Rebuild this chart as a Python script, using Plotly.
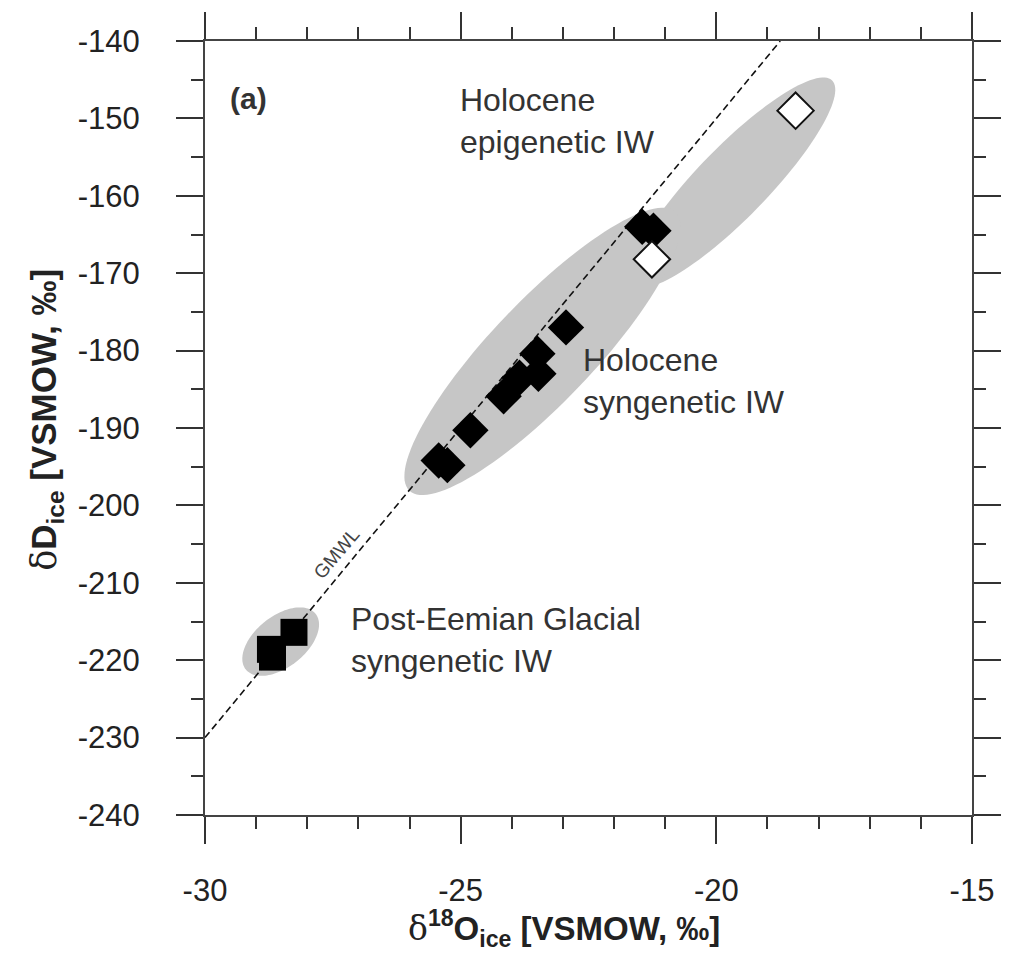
import numpy as np
import plotly.graph_objects as go

# ---- data ----
black_x = [-21.45, -21.23, -22.94, -23.50, -23.48, -23.85, -24.16, -24.81, -25.43, -25.26]
black_y = [-164.0, -164.5, -177.0, -180.4, -183.0, -183.5, -185.9, -190.3, -194.2, -194.8]
white_x = [-18.45, -21.26]
white_y = [-149.0, -168.2]
glacial_x = [-28.26, -28.72, -28.68]
glacial_y = [-216.4, -218.6, -219.6]

# GMWL: dD = 8 d18O + 10
gmwl_slope = 8
gmwl_intercept = 10
gmwl_x = [-30, -18.75]

x_range = [-30, -15]
y_range = [-240, -140]
x_ticks = [-30, -25, -20, -15]
x_ticktext = ["-30", "-25", "-20", "-15"]
y_ticks = [-240, -230, -220, -210, -200, -190, -180, -170, -160, -150, -140]
y_ticktext = ["-240", "-230", "-220", "-210", "-200", "-190", "-180", "-170", "-160", "-150", "-140"]

# ellipses: centre (data), semi-axes (fraction of axis), screen angle (deg)
ell_cx = [-19.68, -23.40, -28.52]
ell_cy = [-158.3, -180.1, -217.6]
ell_a = [0.185, 0.250, 0.058]
ell_b = [0.046, 0.066, 0.033]
ell_ang = [45.5, 46, 38]

labels = ["(a)", "Holocene<br>epigenetic IW", "Holocene<br>syngenetic IW",
          "Post-Eemian Glacial<br>syngenetic IW"]
label_x = [-29.55, -25.06, -22.65, -27.19]
label_y = [-147.4, -150.3, -183.9, -217.4]

x_title = "<span style='font-family:DejaVu Serif;font-weight:normal'>δ</span><b><sup>18</sup>O<sub>ice</sub> [VSMOW, ‰]</b>"
y_title = "<span style='font-family:DejaVu Serif;font-weight:normal'>δ</span><b>D<sub>ice</sub> [VSMOW, ‰]</b>"

FONT = "Liberation Sans, Arial, sans-serif"

fig = go.Figure()

xspan = x_range[1] - x_range[0]
yspan = y_range[1] - y_range[0]
t = np.linspace(0, 2 * np.pi, 121)
for cx, cy, a, b, ang in zip(ell_cx, ell_cy, ell_a, ell_b, ell_ang):
    th = np.deg2rad(ang)
    u = a * np.cos(t) * np.cos(th) - b * np.sin(t) * np.sin(th)
    v = a * np.cos(t) * np.sin(th) + b * np.sin(t) * np.cos(th)
    px = cx + u * xspan
    py = cy + v * yspan
    path = "M " + " L ".join(f"{xx:.4f},{yy:.4f}" for xx, yy in zip(px, py)) + " Z"
    fig.add_shape(type="path", path=path, fillcolor="#c6c6c6",
                  line=dict(width=0), layer="below")

gx = np.array(gmwl_x)
fig.add_trace(go.Scatter(x=gx, y=gmwl_slope * gx + gmwl_intercept, mode="lines",
                         line=dict(color="#111", width=1.6, dash="7px,4px"),
                         hoverinfo="skip", showlegend=False))

fig.add_trace(go.Scatter(x=black_x, y=black_y, mode="markers",
                         marker=dict(symbol="diamond", size=28, color="black",
                                     line=dict(width=0)), showlegend=False))
fig.add_trace(go.Scatter(x=white_x, y=white_y, mode="markers",
                         marker=dict(symbol="diamond", size=28, color="white",
                                     line=dict(width=2, color="#111")), showlegend=False))
fig.add_trace(go.Scatter(x=glacial_x, y=glacial_y, mode="markers",
                         marker=dict(symbol="square", size=27, color="black",
                                     line=dict(width=0)), showlegend=False))

for i, (txt, lx, ly) in enumerate(zip(labels, label_x, label_y)):
    fig.add_annotation(x=lx, y=ly, text=("<b>" + txt + "</b>") if i == 0 else txt,
                       showarrow=False, xanchor="left", yanchor="middle", align="left",
                       font=dict(family=FONT, size=(30 if i == 0 else 32), color="#333"))

fig.add_annotation(x=-27.43, y=-206.2, text="GMWL", textangle=-50, showarrow=False,
                   font=dict(family=FONT, size=19, color="#444"))

# axis titles as annotations (for exact placement)
fig.add_annotation(xref="paper", yref="paper", x=0.468, y=-0.1795, text=x_title,
                   showarrow=False, xanchor="center", yanchor="bottom",
                   font=dict(family=FONT, size=33, color="#222"))
fig.add_annotation(xref="paper", yref="paper", x=-0.2065, y=0.51, text=y_title,
                   textangle=-90, showarrow=False, xanchor="center", yanchor="middle",
                   font=dict(family=FONT, size=35, color="#222"))

axis_common = dict(showline=True, linecolor="#444", linewidth=2, mirror="allticks",
                   ticks="outside", ticklen=27, tickwidth=2, tickcolor="#333",
                   showgrid=False, zeroline=False,
                   tickfont=dict(family=FONT, size=31, color="#222"))

fig.update_xaxes(range=x_range, tickvals=x_ticks, ticktext=x_ticktext, ticklabelstandoff=20,
                 minor=dict(dtick=1, ticklen=12, tickwidth=2, tickcolor="#333", ticks="outside"),
                 **axis_common)
fig.update_yaxes(range=y_range, tickvals=y_ticks, ticktext=y_ticktext, ticklabelstandoff=30,
                 minor=dict(dtick=5, ticklen=12, tickwidth=2, tickcolor="#333", ticks="outside"),
                 **axis_common)

fig.update_layout(width=1013, height=957, margin=dict(l=205, r=33, t=40, b=142),
                  plot_bgcolor="white", paper_bgcolor="white")

fig.write_html("out.html")
